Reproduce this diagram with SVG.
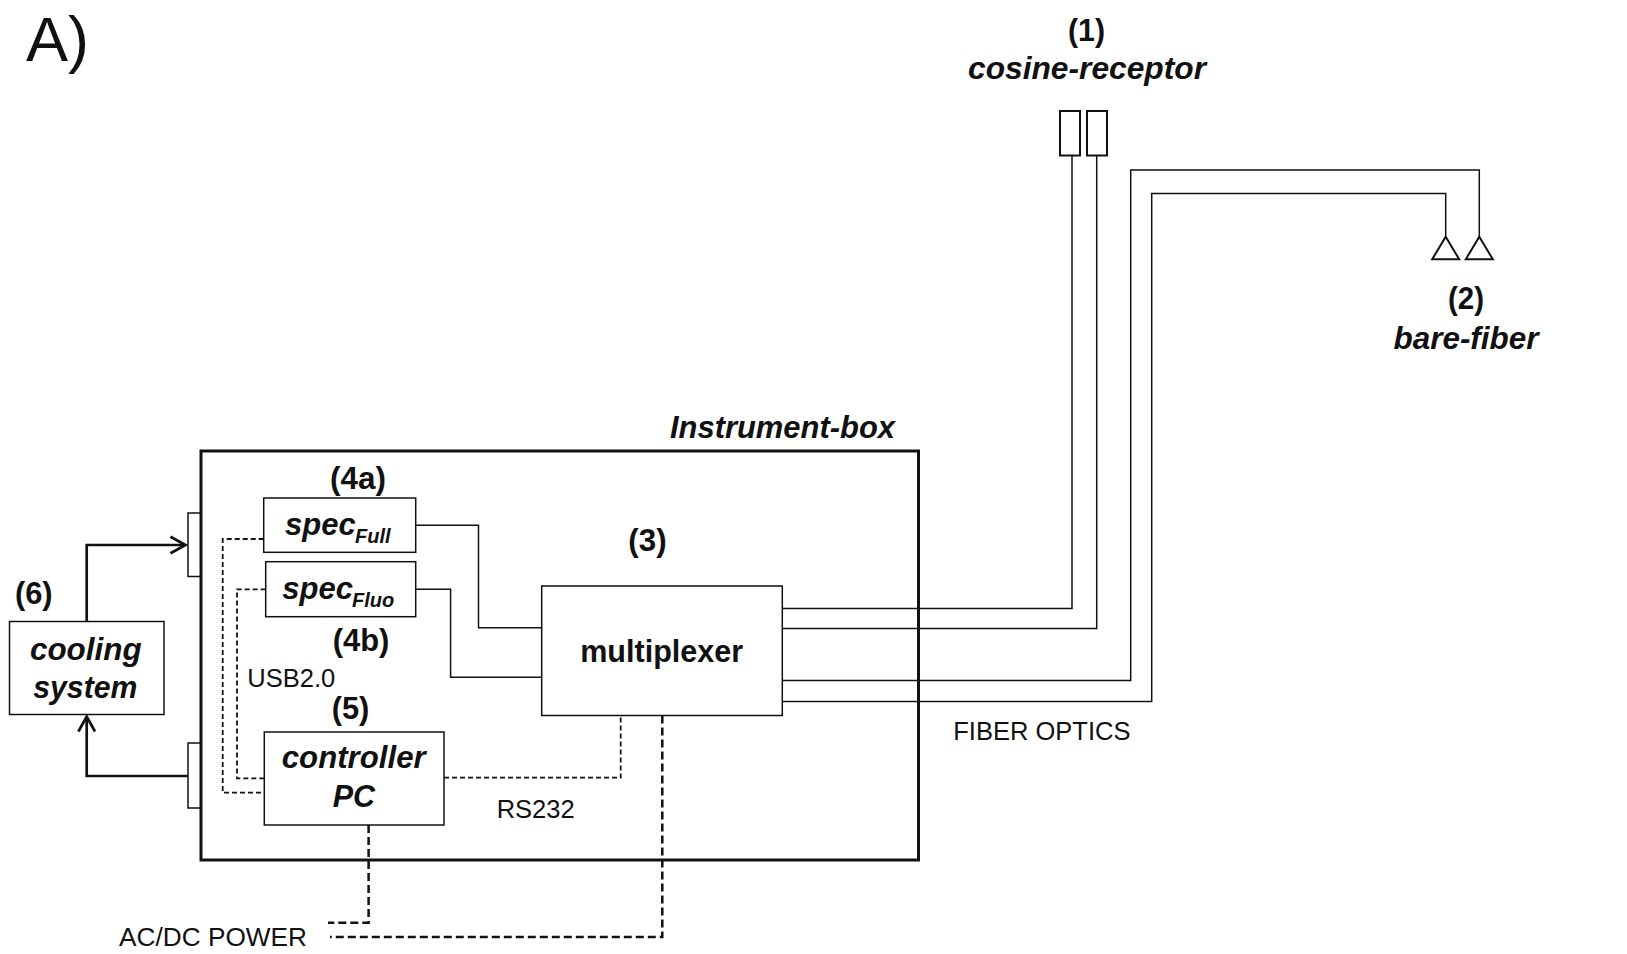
<svg xmlns="http://www.w3.org/2000/svg" width="1627" height="954" viewBox="0 0 1627 954">
<style>
.ln{fill:none;stroke:#111;stroke-width:1.5}
.bx{fill:#fff;stroke:#111;stroke-width:1.5}
.thick{fill:none;stroke:#111;stroke-width:2}
.dash{fill:none;stroke:#111;stroke-width:1.8;stroke-dasharray:5 3}
.pw{fill:none;stroke:#111;stroke-width:2.5;stroke-dasharray:8 4}
.arr{fill:none;stroke:#111;stroke-width:2.7}
.lb{font-family:"Liberation Sans",Arial,Helvetica,sans-serif;font-weight:bold;font-size:31px;fill:#111}
.it{font-style:italic}
.rg{font-family:"Liberation Sans",Arial,Helvetica,sans-serif;font-size:25.5px;fill:#111}
</style>
<defs>
<marker id="chev" markerUnits="userSpaceOnUse" markerWidth="24" markerHeight="24" viewBox="-2 -2 24 24" refX="16" refY="9" orient="auto" overflow="visible">
<path d="M1,0.7 L16,9 L1,17.3" fill="none" stroke="#111" stroke-width="2.7"/>
</marker>
</defs>
<rect width="1627" height="954" fill="#fff"/>

<text x="26" y="61" font-family="'Liberation Sans',Arial,sans-serif" font-size="63" fill="#111">A)</text>

<g id="instrument-box">
<rect x="201" y="451" width="717.5" height="409" fill="none" stroke="#111" stroke-width="3"/>
<path class="ln" d="M201,513 H188 V576.5 H201"/>
<path class="ln" d="M201,743 H188 V808 H201"/>
<text class="lb it" x="670" y="438" textLength="225" lengthAdjust="spacingAndGlyphs">Instrument-box</text>
</g>

<g id="cosine-receptor">
<rect class="thick" x="1060" y="111" width="20" height="44.5"/>
<rect class="thick" x="1087" y="111" width="20" height="44.5"/>
<text class="lb" x="1086.5" y="41" text-anchor="middle" textLength="37" lengthAdjust="spacingAndGlyphs">(1)</text>
<text class="lb it" x="1087" y="78.5" text-anchor="middle" textLength="238" lengthAdjust="spacingAndGlyphs">cosine-receptor</text>
</g>

<g id="bare-fiber">
<path class="thick" d="M1445.7,236.7 L1459.2,259.3 L1432.2,259.3 Z"/>
<path class="thick" d="M1479.3,236.7 L1492.8,259.3 L1465.8,259.3 Z"/>
<text class="lb" x="1466" y="309" text-anchor="middle" textLength="36" lengthAdjust="spacingAndGlyphs">(2)</text>
<text class="lb it" x="1466" y="349" text-anchor="middle" textLength="145" lengthAdjust="spacingAndGlyphs">bare-fiber</text>
</g>

<g id="multiplexer">
<rect class="bx" x="541.7" y="586" width="240.6" height="129.5"/>
<text class="lb" x="647.5" y="551" text-anchor="middle" textLength="38.3" lengthAdjust="spacingAndGlyphs">(3)</text>
<text class="lb" x="661.7" y="662" text-anchor="middle" textLength="163" lengthAdjust="spacingAndGlyphs">multiplexer</text>
</g>

<g id="spec-full">
<rect class="bx" x="263.7" y="498" width="152" height="54.3"/>
<text class="lb" x="358" y="489" text-anchor="middle" textLength="56" lengthAdjust="spacingAndGlyphs">(4a)</text>
<text class="lb it" x="285" y="535" font-size="31">spec<tspan font-size="20" x="355" y="542.7">Full</tspan></text>
</g>

<g id="spec-fluo">
<rect class="bx" x="265.7" y="561.7" width="150" height="55"/>
<text class="lb" x="361" y="650.5" text-anchor="middle" textLength="56.7" lengthAdjust="spacingAndGlyphs">(4b)</text>
<text class="lb it" x="282.3" y="599" font-size="31">spec<tspan font-size="20" x="352" y="607.3">Fluo</tspan></text>
</g>

<g id="controller-pc">
<rect class="bx" x="264.3" y="732" width="179.7" height="93"/>
<text class="lb" x="350.5" y="718.5" text-anchor="middle" textLength="37.7" lengthAdjust="spacingAndGlyphs">(5)</text>
<text class="lb it" x="353.7" y="768.3" text-anchor="middle" textLength="144" lengthAdjust="spacingAndGlyphs">controller</text>
<text class="lb it" x="353.8" y="806.7" text-anchor="middle" textLength="42.3" lengthAdjust="spacingAndGlyphs">PC</text>
</g>

<g id="cooling-system">
<rect class="bx" x="9.5" y="621.5" width="154.5" height="93"/>
<text class="lb" x="33.8" y="603.5" text-anchor="middle" textLength="37.7" lengthAdjust="spacingAndGlyphs">(6)</text>
<text class="lb it" x="85.8" y="660" text-anchor="middle" textLength="111.7" lengthAdjust="spacingAndGlyphs">cooling</text>
<text class="lb it" x="85.3" y="697.7" text-anchor="middle" textLength="104" lengthAdjust="spacingAndGlyphs">system</text>
</g>

<g id="connectors">
<path class="arr" d="M86.7,621.5 V545 H185.5" marker-end="url(#chev)"/>
<path class="arr" d="M188,776 H86.7 V716.5" marker-end="url(#chev)"/>
<path class="ln" d="M415.7,525.3 H478.5 V627.7 H541.7"/>
<path class="ln" d="M415.7,589.3 H450.6 V677.3 H541.7"/>
<path class="ln" d="M782.3,608.5 H1072 V155.5"/>
<path class="ln" d="M782.3,628.5 H1096.7 V155.5"/>
<path class="ln" d="M782.3,680.5 H1130.7 V170 H1479.3 V236.7"/>
<path class="ln" d="M782.3,701.5 H1151.7 V193.5 H1445.7 V236.7"/>
<path class="dash" d="M263.7,539 H222.7 V792.7 H264.3"/>
<path class="dash" d="M265.7,589.3 H237 V778.3 H264.3"/>
<path class="dash" d="M444,777.7 H620.7 V715.5"/>
<path class="pw" d="M368.6,825 V922.7 H328"/>
<path class="pw" d="M662.3,715.5 V937 H330"/>
<text class="rg" x="247.3" y="686.7">USB2.0</text>
<text class="rg" x="496.7" y="817.7">RS232</text>
<text class="rg" x="953.3" y="740">FIBER OPTICS</text>
<text class="rg" x="119" y="946" font-size="27" textLength="188" lengthAdjust="spacingAndGlyphs">AC/DC POWER</text>
</g>
</svg>
